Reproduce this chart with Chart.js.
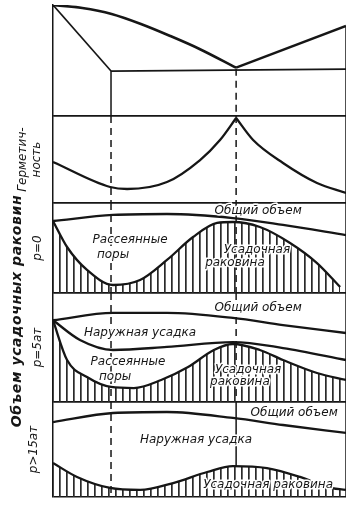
<!DOCTYPE html>
<html>
<head>
<meta charset="utf-8">
<script src="https://cdn.jsdelivr.net/npm/chart.js@4.4.1/dist/chart.umd.min.js"></script>
<style>
  html, body { margin: 0; padding: 0; background: #fff; }
  #wrap { width: 361px; height: 513px; }
</style>
</head>
<body>
<div id="wrap"><canvas id="chart"></canvas></div>
<script>
// composition runs 0..100 across the plot, each panel's value 0..100 bottom to top
const solidusEndX = 19.8;
const eutecticX = 62.5;

// phase diagram
const liquidusLeftX = [0, 10, 20, 30, 40, 50, 62.5];
const liquidusLeftY = [100, 97.3, 91.9, 82.9, 72.1, 60.4, 43.5];
const liquidusRightX = [62.5, 100];
const liquidusRightY = [43.5, 81.1];
const solidusX = [0, 19.8];
const solidusY = [100, 40.5];
const eutLineX = [19.8, 100];
const eutLineY = [40.5, 42.3];

// hermeticity
const hermLeftX = [0, 19.5, 25.3, 38.9, 50.2, 57, 62.5];
const hermLeftY = [47.1, 18.4, 16.1, 24.1, 49.4, 72.4, 97.7];
const hermRightX = [62.5, 68.3, 78.5, 90.1, 100];
const hermRightY = [97.7, 72.4, 46, 23, 11.5];

// p = 0
const p0TotalX = [0, 20.5, 38.9, 61.4, 78.5, 100];
const p0TotalY = [80, 86.7, 87.8, 83.3, 75.6, 64.4];
const p0CavityX = [0, 4.8, 11.6, 20.5, 29.7, 38.9, 47.8, 56, 61.4, 70.6, 80.9, 90.1, 98];
const p0CavityY = [80, 51.1, 25.6, 8.9, 14.4, 36.7, 62.2, 77.8, 78.9, 73.3, 55.6, 33.3, 6.7];

// p = 5 at
const p5TotalX = [0, 20.5, 38.9, 61.4, 78.5, 100];
const p5TotalY = [75, 81.7, 81.7, 77.1, 70.6, 63.3];
const p5OuterX = [0, 9.2, 20.5, 38.9, 61.4, 78.5, 100];
const p5OuterY = [75, 56.9, 47.7, 50.5, 55, 49.5, 38.5];
const p5CavityX = [0, 4.8, 11.6, 19.8, 27.6, 36.9, 46.1, 54.9, 61.4, 70.6, 78.5, 90.1, 100];
const p5CavityY = [75, 38.5, 22.9, 13.8, 12.8, 20.2, 32.1, 47.7, 53.2, 47.7, 38.5, 26.6, 20.2];

// p > 15 at
const p15TotalX = [0, 20.5, 38.9, 61.4, 78.5, 100];
const p15TotalY = [78.9, 88.4, 89.5, 83.2, 75.8, 67.4];
const p15CavityX = [0, 8.2, 19.5, 29.7, 41, 52.6, 61.4, 73, 84.3, 93.5, 100];
const p15CavityY = [35.8, 21.1, 9.5, 7.4, 14.7, 26.3, 32.6, 30.5, 21.1, 10.5, 7.4];

const ink = '#161616';
const family = "'DejaVu Sans', sans-serif";

const pts = (xs, ys) => xs.map((x, i) => ({x: x, y: ys[i]}));

// vertical hatching for the shrinkage cavity areas
const tile = document.createElement('canvas');
tile.width = 7;
tile.height = 7;
const tctx = tile.getContext('2d');
tctx.fillStyle = '#2a2a2a';
tctx.fillRect(3, 0, 1.7, 7);
const hatch = tctx.createPattern(tile, 'repeat');

function curve(axis, xs, ys, extra) {
  return Object.assign({
    yAxisID: axis, data: pts(xs, ys), borderColor: ink, borderWidth: 2.3,
    pointRadius: 0, fill: false, cubicInterpolationMode: 'monotone'
  }, extra || {});
}

function rule(axis, x0, y0, x1, y1, dashed, width) {
  return {
    yAxisID: axis, data: [{x: x0, y: y0}, {x: x1, y: y1}], borderColor: ink,
    borderWidth: width || 1.5, borderDash: dashed ? [7, 5] : [], pointRadius: 0,
    fill: false, tension: 0
  };
}

const straight = {cubicInterpolationMode: 'default', tension: 0};

const datasets = [
  curve('yPhase', liquidusLeftX, liquidusLeftY, {borderWidth: 2.6}),
  curve('yPhase', liquidusRightX, liquidusRightY, Object.assign({borderWidth: 2.4}, straight)),
  curve('yPhase', solidusX, solidusY, Object.assign({borderWidth: 1.7}, straight)),
  curve('yPhase', eutLineX, eutLineY, Object.assign({borderWidth: 1.7}, straight)),
  rule('yPhase', solidusEndX, solidusY[1], solidusEndX, 0, false),
  rule('yPhase', eutecticX, eutLineY[0] + 2, eutecticX, 0, true),
  rule('yPhase', 100, liquidusRightY[1], 100, 0, false),

  curve('yHerm', hermLeftX, hermLeftY),
  curve('yHerm', hermRightX, hermRightY),
  rule('yHerm', solidusEndX, 100, solidusEndX, 0, true),
  rule('yHerm', eutecticX, 100, eutecticX, 0, true),
  rule('yHerm', 100, 100, 100, 0, false),

  curve('yP0', p0TotalX, p0TotalY),
  curve('yP0', p0CavityX, p0CavityY, {fill: 'start', backgroundColor: hatch}),
  rule('yP0', solidusEndX, 100, solidusEndX, 0, true),
  rule('yP0', eutecticX, 100, eutecticX, 0, true),
  rule('yP0', 100, 100, 100, 0, false),

  curve('yP5', p5TotalX, p5TotalY),
  curve('yP5', p5OuterX, p5OuterY),
  curve('yP5', p5CavityX, p5CavityY, {fill: 'start', backgroundColor: hatch}),
  rule('yP5', solidusEndX, 100, solidusEndX, 0, true),
  rule('yP5', eutecticX, 100, eutecticX, 0, true),
  rule('yP5', 100, 100, 100, 0, false),

  curve('yP15', p15TotalX, p15TotalY),
  curve('yP15', p15CavityX, p15CavityY, {fill: 'start', backgroundColor: hatch}),
  rule('yP15', solidusEndX, 100, solidusEndX, 0, true),
  rule('yP15', eutecticX, 100, eutecticX, p15CavityY[6], false),
  rule('yP15', 100, 100, 100, 0, false)
];

// text inside the panels
const notes = [
  {axis: 'yP0', x: 70, y: 91, text: 'Общий объем'},
  {axis: 'yP0', x: 26.3, y: 59, text: 'Рассеянные'},
  {axis: 'yP0', x: 20.5, y: 42, text: 'поры'},
  {axis: 'yP0', x: 69.6, y: 48, text: 'Усадочная'},
  {axis: 'yP0', x: 62.1, y: 33, text: 'раковина'},
  {axis: 'yP5', x: 70, y: 86, text: 'Общий объем'},
  {axis: 'yP5', x: 29.7, y: 63, text: 'Наружная усадка'},
  {axis: 'yP5', x: 25.6, y: 37, text: 'Рассеянные'},
  {axis: 'yP5', x: 21.2, y: 23, text: 'поры'},
  {axis: 'yP5', x: 66.6, y: 29.5, text: 'Усадочная'},
  {axis: 'yP5', x: 63.8, y: 18.5, text: 'раковина'},
  {axis: 'yP15', x: 82.3, y: 88.5, text: 'Общий объем'},
  {axis: 'yP15', x: 48.8, y: 60, text: 'Наружная усадка'},
  {axis: 'yP15', x: 73.4, y: 12.6, text: 'Усадочная раковина'}
];

const notePlugin = {
  id: 'notes',
  afterDatasetsDraw(chart) {
    const ctx = chart.ctx;
    const xs = chart.scales.x;
    ctx.save();
    ctx.font = 'italic 12px ' + family;
    ctx.textAlign = 'center';
    ctx.textBaseline = 'middle';
    ctx.lineJoin = 'round';
    notes.forEach(n => {
      const px = xs.getPixelForValue(n.x);
      const py = chart.scales[n.axis].getPixelForValue(n.y);
      ctx.strokeStyle = '#fff';
      ctx.lineWidth = 3;
      ctx.strokeText(n.text, px, py);
      ctx.fillStyle = ink;
      ctx.fillText(n.text, px, py);
    });
    // group label for the three shrinkage panels
    const p5 = chart.scales.yP5;
    ctx.translate(17, p5.getPixelForValue(83.5));
    ctx.rotate(-Math.PI / 2);
    ctx.font = 'italic bold 14px ' + family;
    ctx.letterSpacing = '0.6px';
    ctx.fillText('Объем усадочных раковин', 0, 0);
    ctx.restore();
  }
};

function panel(weight, stackWeight, title, pad, skipTop) {
  return {
    type: 'linear', position: 'left', stack: 'panels', stackWeight: stackWeight, weight: weight,
    min: 0, max: 100, offset: false,
    afterBuildTicks: s => { s.ticks = [{value: 0}, {value: 100}]; },
    afterFit: s => { s.width = 39; },
    ticks: {display: false},
    grid: {
      drawTicks: false, tickLength: 0, lineWidth: 1.5,
      color: c => (skipTop && c.tick && c.tick.value === 100) ? 'rgba(0,0,0,0)' : ink
    },
    border: {display: true, color: ink, width: 1.5},
    title: {
      display: !!title, text: title || '', color: ink,
      font: {family: family, size: 12, style: 'italic'},
      padding: {top: pad, bottom: 0}
    }
  };
}

new Chart(document.getElementById('chart'), {
  type: 'line',
  data: {datasets: datasets},
  options: {
    responsive: true,
    maintainAspectRatio: false,
    animation: false,
    layout: {padding: {left: 14, right: 15, top: 5, bottom: 16}},
    plugins: {legend: {display: false}, tooltip: {enabled: false}},
    scales: {
      x: {type: 'linear', min: 0, max: 100, display: false},
      yPhase: panel(5, 111, '', 0, true),
      yHerm: panel(4, 87, ['Герметич-', 'ность'], 1.5, false),
      yP0: panel(3, 90, 'p=0', 16.5, false),
      yP5: panel(2, 109, 'p=5ат', 16.5, false),
      yP15: panel(1, 95, 'p>15ат', 13, false)
    }
  },
  plugins: [notePlugin]
});
</script>
</body>
</html>
